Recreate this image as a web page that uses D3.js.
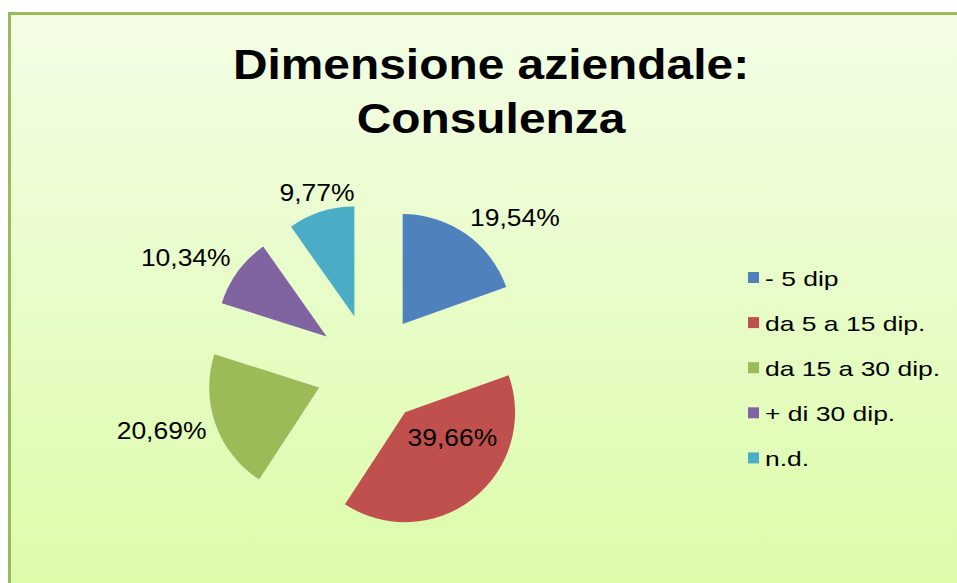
<!DOCTYPE html>
<html>
<head>
<meta charset="utf-8">
<script src="https://cdn.jsdelivr.net/npm/d3@7"></script>
<style>
  html, body { margin: 0; padding: 0; background: #ffffff; overflow: hidden; }
  svg { display: block; overflow: hidden; }
</style>
</head>
<body>
<div id="chart"></div>
<script>
// ---- data ----
const categories = ["- 5 dip", "da 5 a 15 dip.", "da 15 a 30 dip.", "+ di 30 dip.", "n.d."];
const values = [19.54, 39.66, 20.69, 10.34, 9.77];
const valueLabels = ["19,54%", "39,66%", "20,69%", "10,34%", "9,77%"];
const labelPlacement = ["outside", "inside", "outside", "outside", "outside"];
const colors = ["#4F81BD", "#C0504D", "#9BBB59", "#8064A2", "#4BACC6"];
const titleLines = ["Dimensione aziendale:", "Consulenza"];

// ---- layout ----
const W = 957, H = 583;
const cx = 371, cy = 369, R = 110, explode = 55;
const stretch = 1.15; // horizontal text stretch of the original rendering

const svg = d3.select("#chart").append("svg").attr("width", W).attr("height", H);

const defs = svg.append("defs");
const grad = defs.append("linearGradient").attr("id", "bg").attr("x1", 0).attr("y1", 0).attr("x2", 0).attr("y2", 1);
grad.append("stop").attr("offset", "0%").attr("stop-color", "#F3FDE6");
grad.append("stop").attr("offset", "100%").attr("stop-color", "#DCFCAA");

// chart area background (extends past the right and bottom edges)
svg.append("rect").attr("x", 8).attr("y", 12).attr("width", W - 8).attr("height", H - 12)
  .attr("fill", "url(#bg)");
// border: only left and top edges are visible
svg.append("path").attr("d", `M9.5,${H} L9.5,13.5 L${W},13.5`)
  .attr("fill", "none").attr("stroke", "#9BBB59").attr("stroke-width", 3);

function stretchText(sel, k) {
  sel.each(function () {
    const len = this.getComputedTextLength();
    d3.select(this).attr("textLength", len * k).attr("lengthAdjust", "spacingAndGlyphs");
  });
}

// title
const title = svg.append("g").attr("font-family", "'Liberation Sans', Arial, sans-serif")
  .attr("font-weight", "bold").attr("font-size", 42).attr("fill", "#000");
title.selectAll("text").data(titleLines).join("text")
  .attr("x", 491).attr("y", (d, i) => 79 + i * 54)
  .attr("text-anchor", "middle").text(d => d)
  .call(stretchText, 1.14);

// pie
const pie = d3.pie().sort(null).value(d => d.v).startAngle(0).endAngle(2 * Math.PI);
const arcs = pie(values.map((v, i) => ({ v, i })));
const arc = d3.arc().innerRadius(0).outerRadius(R);

const g = svg.append("g").attr("transform", `translate(${cx},${cy})`);
const slice = g.selectAll("g.slice").data(arcs).join("g").attr("class", "slice")
  .attr("transform", d => {
    const m = (d.startAngle + d.endAngle) / 2;
    return `translate(${Math.sin(m) * explode},${-Math.cos(m) * explode})`;
  });
slice.append("path").attr("d", arc).attr("fill", (d, i) => colors[i]);

// data labels
slice.append("text")
  .attr("font-family", "'Liberation Sans', Arial, sans-serif")
  .attr("font-size", 23).attr("fill", "#000")
  .each(function (d, i) {
    const m = (d.startAngle + d.endAngle) / 2;
    const t = d3.select(this);
    const sx = Math.sin(m), sy = -Math.cos(m);
    if (labelPlacement[i] === "inside") {
      t.attr("x", sx * R * 0.43 + 18).attr("y", sy * R * 0.3)
        .attr("text-anchor", "middle").attr("dy", "0.35em");
    } else {
      const rr = R + 14;
      const anchor = sx > 0.4 ? "start" : (sx < -0.4 ? "end" : "middle");
      t.attr("x", sx * rr + (anchor === "start" ? -4 : anchor === "end" ? 4 : 0))
        .attr("y", sy * rr + 3 + Math.max(0, sy) * 20).attr("text-anchor", anchor);
    }
    t.text(valueLabels[i]);
  })
  .call(stretchText, stretch);

// legend
const legend = svg.append("g").attr("transform", "translate(748,278)");
const item = legend.selectAll("g").data(categories).join("g")
  .attr("transform", (d, i) => `translate(0,${i * 45.1})`);
item.append("rect").attr("x", 0).attr("y", -6).attr("width", 11).attr("height", 11)
  .attr("fill", (d, i) => colors[i]);
item.append("text").attr("x", 17).attr("dy", "0.36em")
  .attr("font-family", "'Liberation Sans', Arial, sans-serif")
  .attr("font-size", 21).attr("fill", "#000").text(d => d)
  .call(stretchText, 1.26);
</script>
</body>
</html>
